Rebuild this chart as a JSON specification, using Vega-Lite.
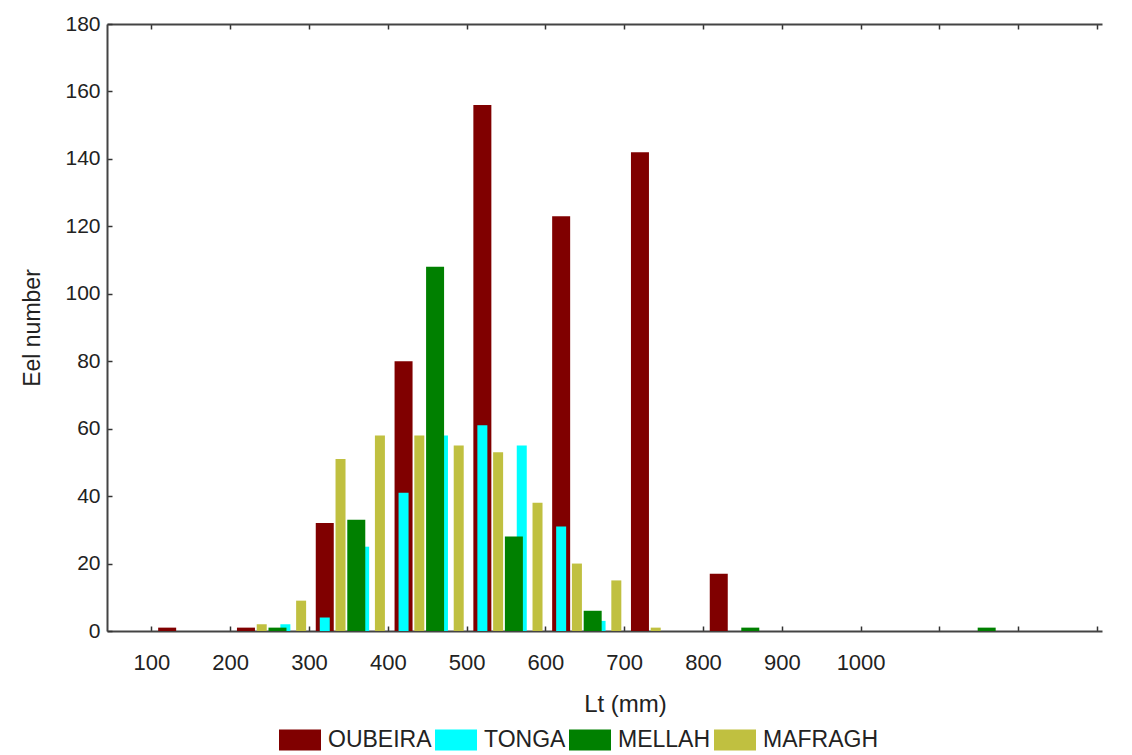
{
  "$schema": "https://vega.github.io/schema/vega-lite/v6.json",
  "width": 995,
  "height": 607,
  "autosize": "none",
  "padding": {"left": 107, "top": 24, "right": 30, "bottom": 124},
  "background": "white",
  "config": {
    "view": {"stroke": null},
    "font": "Liberation Sans",
    "axis": {
      "domainColor": "#444",
      "domainWidth": 2,
      "tickColor": "#333",
      "tickWidth": 1.5,
      "tickSize": -5,
      "grid": false,
      "labelColor": "#222",
      "titleColor": "#222",
      "labelFont": "Liberation Sans",
      "titleFont": "Liberation Sans",
      "titleFontWeight": "normal"
    }
  },
  "data": {
    "values": [
      {"series": "OUBEIRA", "Lt": 120, "n": 1},
      {"series": "OUBEIRA", "Lt": 220, "n": 1},
      {"series": "OUBEIRA", "Lt": 320, "n": 32},
      {"series": "OUBEIRA", "Lt": 420, "n": 80},
      {"series": "OUBEIRA", "Lt": 520, "n": 156},
      {"series": "OUBEIRA", "Lt": 620, "n": 123},
      {"series": "OUBEIRA", "Lt": 720, "n": 142},
      {"series": "OUBEIRA", "Lt": 820, "n": 17},
      {"series": "TONGA", "Lt": 270, "n": 2},
      {"series": "TONGA", "Lt": 320, "n": 4},
      {"series": "TONGA", "Lt": 370, "n": 25},
      {"series": "TONGA", "Lt": 420, "n": 41},
      {"series": "TONGA", "Lt": 470, "n": 58},
      {"series": "TONGA", "Lt": 520, "n": 61},
      {"series": "TONGA", "Lt": 570, "n": 55},
      {"series": "TONGA", "Lt": 620, "n": 31},
      {"series": "TONGA", "Lt": 670, "n": 3},
      {"series": "MELLAH", "Lt": 260, "n": 1},
      {"series": "MELLAH", "Lt": 360, "n": 33},
      {"series": "MELLAH", "Lt": 460, "n": 108},
      {"series": "MELLAH", "Lt": 560, "n": 28},
      {"series": "MELLAH", "Lt": 660, "n": 6},
      {"series": "MELLAH", "Lt": 860, "n": 1},
      {"series": "MELLAH", "Lt": 1160, "n": 1},
      {"series": "MAFRAGH", "Lt": 240, "n": 2},
      {"series": "MAFRAGH", "Lt": 290, "n": 9},
      {"series": "MAFRAGH", "Lt": 340, "n": 51},
      {"series": "MAFRAGH", "Lt": 390, "n": 58},
      {"series": "MAFRAGH", "Lt": 440, "n": 58},
      {"series": "MAFRAGH", "Lt": 490, "n": 55},
      {"series": "MAFRAGH", "Lt": 540, "n": 53},
      {"series": "MAFRAGH", "Lt": 590, "n": 38},
      {"series": "MAFRAGH", "Lt": 640, "n": 20},
      {"series": "MAFRAGH", "Lt": 690, "n": 15},
      {"series": "MAFRAGH", "Lt": 740, "n": 1}
    ]
  },
  "encoding": {
    "y": {
      "field": "n",
      "type": "quantitative",
      "scale": {"domain": [0, 180], "nice": false},
      "axis": {
        "title": "Eel number",
        "titleFontSize": 23,
        "titlePadding": 20,
        "labelFontSize": 21,
        "labelPadding": 12,
        "values": [0, 20, 40, 60, 80, 100, 120, 140, 160, 180]
      }
    },
    "color": {
      "field": "series",
      "type": "nominal",
      "scale": {
        "domain": ["OUBEIRA", "TONGA", "MELLAH", "MAFRAGH"],
        "range": ["#800000", "#00FFFF", "#008000", "#C0C040"]
      },
      "legend": {
        "orient": "none",
        "legendX": 172,
        "legendY": 695,
        "direction": "horizontal",
        "title": null,
        "symbolType": "M-1,-0.5H1V0.5H-1Z",
        "symbolSize": 1764,
        "symbolStrokeWidth": 0,
        "symbolOpacity": 1,
        "labelFontSize": 23,
        "labelColor": "#222",
        "labelOffset": 7,
        "columnPadding": 3,
        "padding": 0
      }
    }
  },
  "layer": [
    {
      "transform": [{"filter": "datum.series === 'OUBEIRA'"}],
      "mark": {"type": "bar", "width": 18},
      "encoding": {
        "x": {
          "field": "Lt",
          "type": "quantitative",
          "scale": {"domain": [50, 1300], "nice": false, "zero": false},
          "axis": {
            "orient": "bottom",
            "title": "Lt (mm)",
            "titleFontSize": 24,
            "titleX": 518,
            "titlePadding": 19,
            "labelFontSize": 22,
            "labelPadding": 26,
            "format": "d",
            "values": [100, 200, 300, 400, 500, 600, 700, 800, 900, 1000, 1100, 1200, 1300],
            "labelExpr": "datum.value <= 1000 ? datum.label : ''"
          }
        }
      }
    },
    {
      "transform": [{"filter": "datum.series === 'TONGA'"}],
      "mark": {"type": "bar", "width": 10},
      "encoding": {
        "x": {
          "field": "Lt",
          "type": "quantitative",
          "scale": {"domain": [50, 1300], "nice": false, "zero": false},
          "axis": {
            "orient": "top",
            "title": null,
            "labels": false,
            "values": [100, 200, 300, 400, 500, 600, 700, 800, 900, 1000, 1100, 1200, 1300]
          }
        }
      }
    },
    {
      "transform": [{"filter": "datum.series === 'MELLAH'"}],
      "mark": {"type": "bar", "width": 18},
      "encoding": {
        "x": {
          "field": "Lt",
          "type": "quantitative",
          "scale": {"domain": [50, 1300], "nice": false, "zero": false},
          "axis": null
        }
      }
    },
    {
      "transform": [{"filter": "datum.series === 'MAFRAGH'"}],
      "mark": {"type": "bar", "width": 10},
      "encoding": {
        "x": {
          "field": "Lt",
          "type": "quantitative",
          "scale": {"domain": [50, 1300], "nice": false, "zero": false},
          "axis": null
        }
      }
    }
  ]
}
